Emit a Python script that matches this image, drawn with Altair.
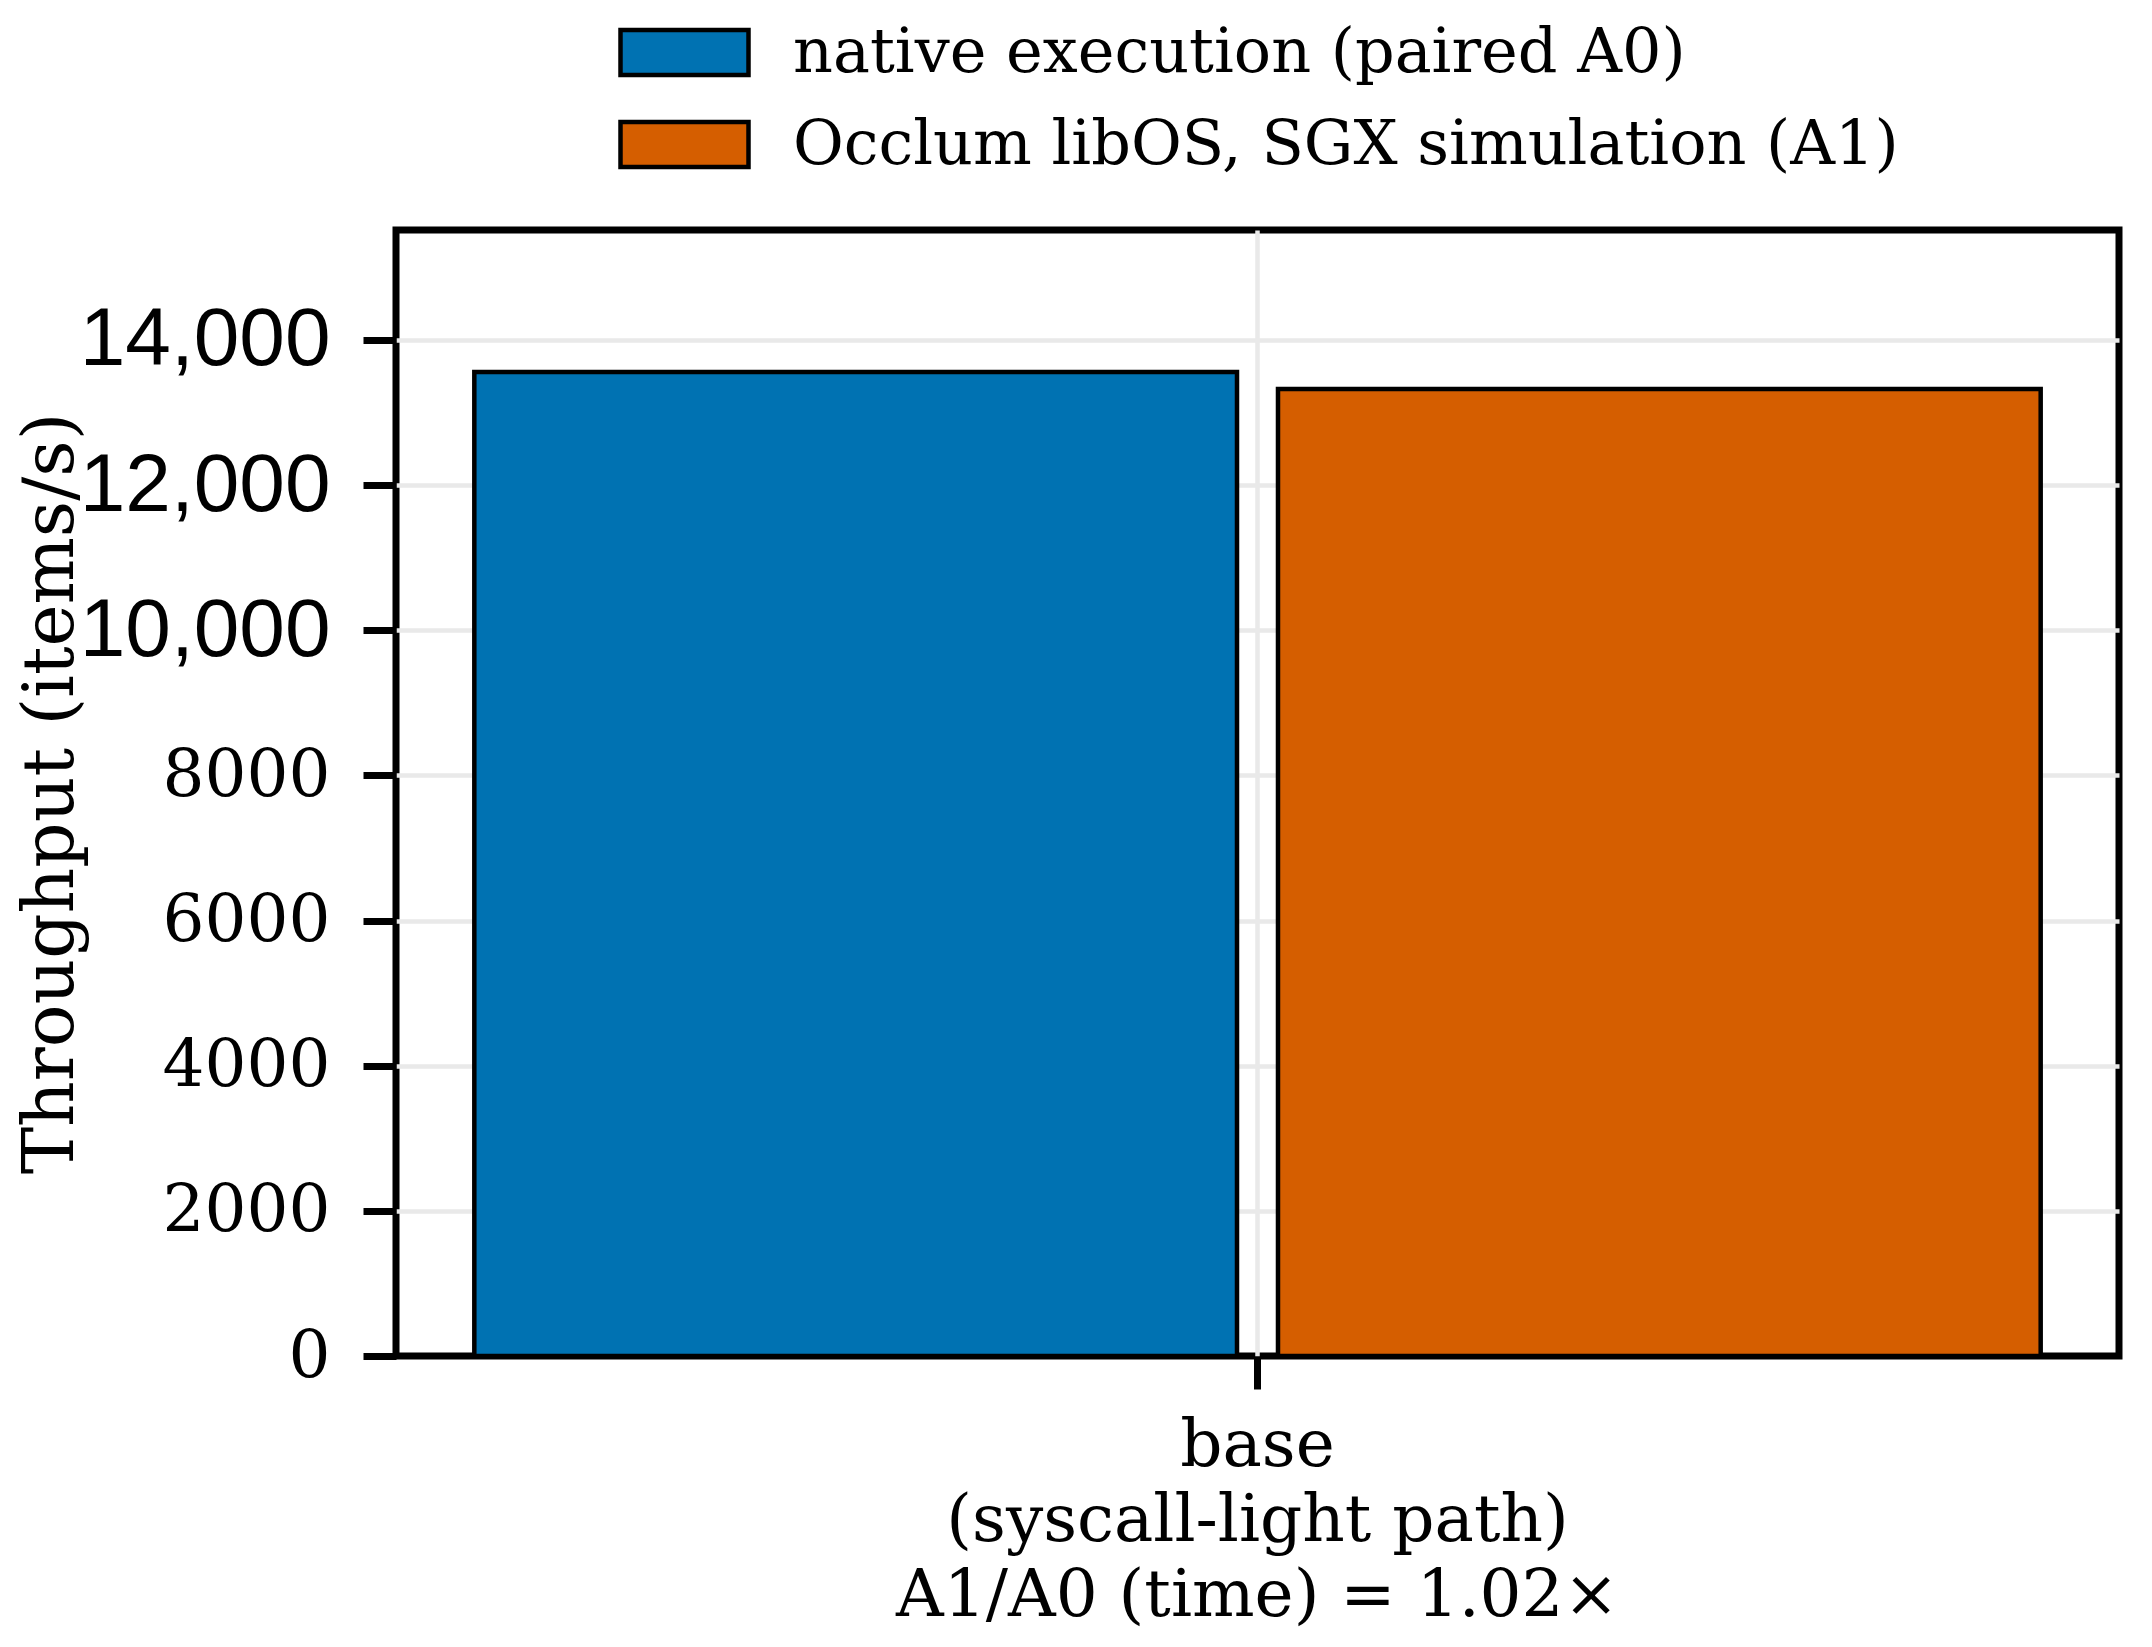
import altair as alt
import pandas as pd

groups = ["base\n(syscall-light path)\nA1/A0 (time) = 1.02×"]
series = ["native execution (paired A0)", "Occlum libOS, SGX simulation (A1)"]
colors = ["#0072B2", "#D55E00"]
throughput = [13560, 13325]
y_ticks = [0, 2000, 4000, 6000, 8000, 10000, 12000, 14000]
y_max = 15515

df = pd.DataFrame({
    "group": [groups[0]] * len(series),
    "series": series,
    "throughput": throughput,
})

SERIF = "DejaVu Serif"
SANS = "Liberation Sans"

bars = alt.Chart(df).mark_bar(stroke="black", strokeWidth=4.5).encode(
    x=alt.X("group:N", sort=groups,
            scale=alt.Scale(paddingInner=0, paddingOuter=0.05),
            axis=alt.Axis(title=None, labelAngle=0,
                          labelExpr="split(datum.label, '\\n')",
                          labelFont=SERIF, labelFontSize=66, labelLineHeight=75,
                          labelBaseline="top", labelPadding=24, labelLimit=3000,
                          tickSize=33, tickWidth=7, tickColor="black",
                          grid=True, gridColor="#e9e9e9", gridWidth=4.5,
                          domain=False, bandPosition=0.5)),
    xOffset=alt.XOffset("series:N", sort=series,
                        scale=alt.Scale(paddingInner=0.051, paddingOuter=0)),
    y=alt.Y("throughput:Q",
            scale=alt.Scale(domain=[0, y_max], nice=False, zero=True),
            axis=alt.Axis(title="Throughput (items/s)", values=y_ticks,
                          labelExpr="datum.value >= 10000 ? format(datum.value, ',') : format(datum.value, 'd')",
                          labelFont={"condition": {"test": "datum.value >= 10000", "value": SANS}, "value": SERIF},
                          labelFontSize={"condition": {"test": "datum.value >= 10000", "value": 82}, "value": 66},
                          labelPadding=33,
                          labelColor="black", labelLimit=3000,
                          tickSize=33, tickWidth=7, tickColor="black",
                          grid=True, gridColor="#e9e9e9", gridWidth=4.5,
                          gridOpacity={"condition": {"test": "datum.value === 0", "value": 0}, "value": 1},
                          domain=False,
                          titleFont=SERIF, titleFontSize=71, titleFontWeight="normal",
                          titleColor="black", titleX=-345, titleBaseline="middle")),
    color=alt.Color("series:N", sort=series,
                    scale=alt.Scale(domain=series, range=colors),
                    legend=alt.Legend(title=None, orient="none",
                                      legendX=254, legendY=-212,
                                      symbolType="M-2,-0.704L2,-0.704L2,0.704L-2,0.704Z",
                                      symbolSize=4096, symbolStrokeColor="black",
                                      symbolStrokeWidth=4.5, symbolOpacity=1,
                                      labelFont=SERIF, labelFontSize=62,
                                      labelColor="black", labelOffset=74,
                                      rowPadding=25, padding=0,
                                      labelLimit=3000)),
)

chart = bars.properties(
    width=1723, height=1126,
    autosize=alt.AutoSizeParams(type="none"),
    padding={"left": 388, "top": 222, "right": 25, "bottom": 283},
).configure_view(
    stroke="black", strokeWidth=7,
).configure_axis(
    labelColor="black",
)

chart.save("out.html", embed_options={"renderer": "svg", "actions": False})
